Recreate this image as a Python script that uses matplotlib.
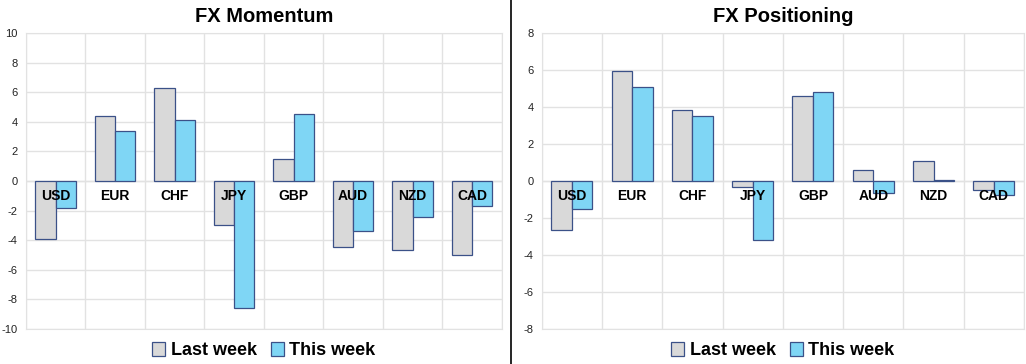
import numpy as np
import matplotlib.pyplot as plt
from matplotlib.patches import Patch
from matplotlib.lines import Line2D

plt.rcParams["axes.unicode_minus"] = False
plt.rcParams["font.family"] = ["Liberation Sans", "DejaVu Sans"]

CURRENCIES = ["USD", "EUR", "CHF", "JPY", "GBP", "AUD", "NZD", "CAD"]

MOMENTUM_LAST = [-3.9, 4.4, 6.3, -3.0, 1.5, -4.45, -4.65, -5.0]
MOMENTUM_THIS = [-1.8, 3.4, 4.1, -8.6, 4.55, -3.35, -2.4, -1.65]

POSITIONING_LAST = [-2.65, 5.95, 3.85, -0.3, 4.6, 0.6, 1.1, -0.5]
POSITIONING_THIS = [-1.5, 5.1, 3.5, -3.2, 4.8, -0.65, 0.08, -0.75]

LAST_COLOR = "#d9d9d9"
THIS_COLOR = "#7fd6f5"
EDGE_COLOR = "#3b5188"
GRID_COLOR = "#e2e2e2"


def drawPanel(fig, rect, title, last, this, ylim, step):
    ax = fig.add_axes(rect)
    x = np.arange(len(CURRENCIES))
    w = 0.34
    ax.bar(x - w / 2, last, w, color=LAST_COLOR, edgecolor=EDGE_COLOR, linewidth=0.9, zorder=3)
    ax.bar(x + w / 2, this, w, color=THIS_COLOR, edgecolor=EDGE_COLOR, linewidth=0.9, zorder=3)

    ax.set_xlim(-0.5, len(CURRENCIES) - 0.5)
    ax.set_ylim(*ylim)
    ax.set_yticks(np.arange(ylim[0], ylim[1] + step / 2, step))
    ax.set_xticks(np.arange(len(CURRENCIES) + 1) - 0.5)
    ax.set_xticklabels([])
    ax.tick_params(length=0, labelsize=8, colors="#222222", pad=6)
    ax.grid(True, color=GRID_COLOR, linewidth=1, zorder=0)
    for s in ax.spines.values():
        s.set_color(GRID_COLOR)
    ax.axhline(0, color=GRID_COLOR, linewidth=1, zorder=1)

    for i, name in enumerate(CURRENCIES):
        ax.annotate(name, (i, 0), xytext=(0, -11), textcoords="offset points",
                    ha="center", va="center", fontsize=10, fontweight="bold",
                    zorder=5)

    ax.set_title(title, fontsize=14.5, fontweight="bold", pad=8)

    handles = [Patch(facecolor=LAST_COLOR, edgecolor=EDGE_COLOR, linewidth=0.9),
               Patch(facecolor=THIS_COLOR, edgecolor=EDGE_COLOR, linewidth=0.9)]
    ax.legend(handles, ["Last week", "This week"], loc="center",
              bbox_to_anchor=(0.5, -0.072), ncol=2, frameon=False,
              prop={"weight": "bold", "size": 13}, handlelength=0.7,
              handleheight=0.9, handletextpad=0.3, columnspacing=0.8,
              borderpad=0.1)
    return ax


def main():
    fig = plt.figure(figsize=(10.26, 3.64), dpi=100)
    drawPanel(fig, [0.0253, 0.096, 0.4637, 0.813], "FX Momentum",
              MOMENTUM_LAST, MOMENTUM_THIS, (-10, 10), 2)
    drawPanel(fig, [0.528, 0.096, 0.470, 0.813], "FX Positioning",
              POSITIONING_LAST, POSITIONING_THIS, (-8, 8), 2)
    fig.add_artist(Line2D([0.4985, 0.4985], [0, 1], color="black", linewidth=1.2,
                          transform=fig.transFigure))
    fig.savefig("out.png", dpi=100)


if __name__ == "__main__":
    main()
